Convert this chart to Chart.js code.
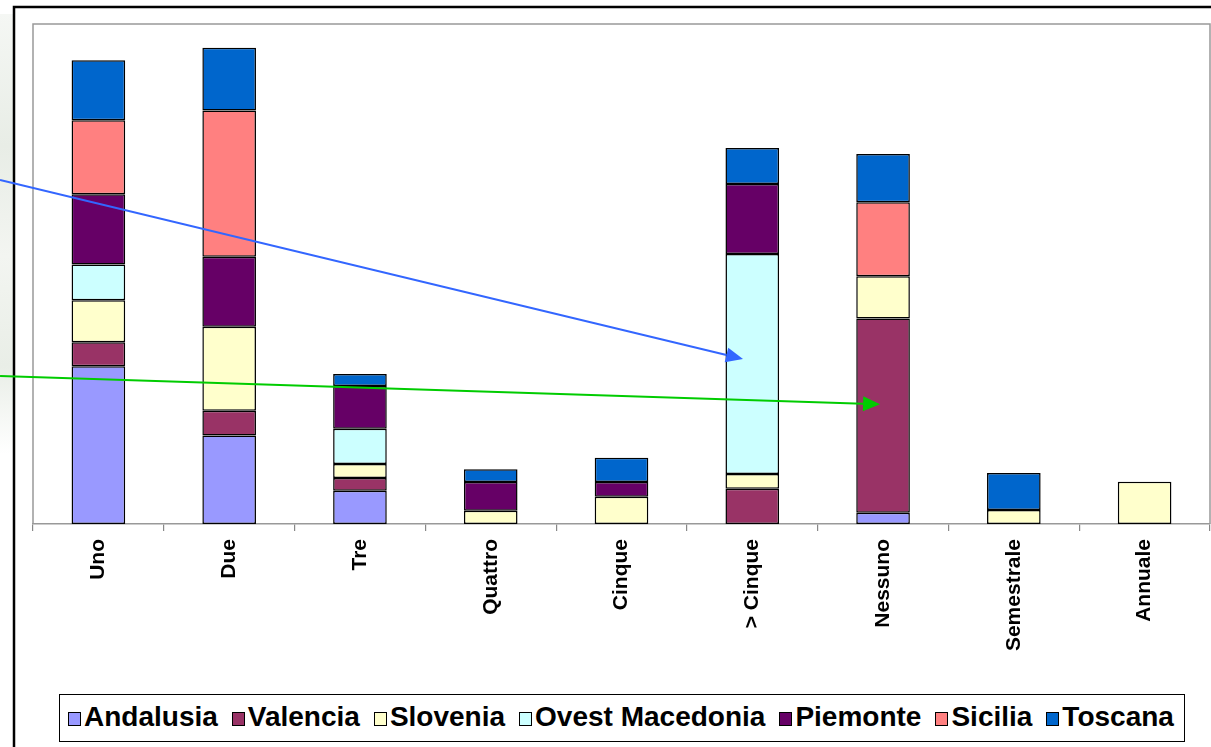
<!DOCTYPE html>
<html>
<head>
<meta charset="utf-8">
<script src="https://cdn.jsdelivr.net/npm/chart.js@4.4.1/dist/chart.umd.min.js"></script>
<style>
  html, body { margin: 0; padding: 0; background: #ffffff; }
  #wrap { position: relative; width: 1211px; height: 747px; overflow: hidden; }
  #strip { position: absolute; left: 0; top: 14px; width: 14px; height: 440px;
           background: linear-gradient(to bottom, #f5f7f4 0%, #e8ede6 30%, #f3f5f1 55%, #e9eee7 80%, #ffffff 100%); }
  canvas { position: absolute; left: 0; top: 0; }
  #legend { position: absolute; left: 59px; top: 694px; height: 46px;
            border: 1.2px solid #000; background: #fff; padding: 0 10px 0 8px; }
  #legend ul { list-style: none; margin: 0; padding: 0; height: 46px;
               display: flex; align-items: center; white-space: nowrap; }
  #legend li { display: flex; align-items: center; margin-right: 14px; }
  #legend li:last-child { margin-right: 0; }
  #legend .box { display: inline-block; width: 11px; height: 12px; border: 1.2px solid #000; margin-right: 3px; position: relative; top: 1px; }
  #legend .txt { font-family: "Liberation Sans", Arial, sans-serif; font-weight: bold; font-size: 28px;
                 color: #000; line-height: 28px; position: relative; top: -1px; }
</style>
</head>
<body>
<div id="wrap">
  <div id="strip"></div>
  <canvas id="c" width="1211" height="747"></canvas>
  <div id="legend"></div>
</div>
<script>
// ---- data (percent of each region's answers) ----
const categories = ['Uno', 'Due', 'Tre', 'Quattro', 'Cinque', '> Cinque', 'Nessuno', 'Semestrale', 'Annuale'];
const seriesNames = ['Andalusia', 'Valencia', 'Slovenia', 'Ovest Macedonia', 'Piemonte', 'Sicilia', 'Toscana'];
const andalusia = [53.6, 30.1, 11.3, null, null, null, 3.8, null, null];
const valencia  = [8.2, 8.4, 4.3, null, null, 12.0, 66.1, null, null];
const slovenia  = [14.3, 28.6, 4.8, 4.5, 9.3, 5.0, 14.3, 4.8, 14.4];
const ovestMacedonia = [12.1, null, 12.0, null, null, 74.8, null, null, null];
const piemonte  = [23.9, 23.8, 14.5, 9.8, 5.0, 23.8, null, null, null];
const sicilia   = [25.2, 49.7, null, null, null, null, 25.2, null, null];
const toscana   = [20.4, 21.3, 4.1, 4.3, 8.2, 12.2, 16.4, 12.5, null];
const seriesColors = ['#9999FF', '#993366', '#FFFFCC', '#CCFFFF', '#660066', '#FF8080', '#0066CC'];
// annotation arrows in data coordinates: [categoryIndex, value]
const blueArrow  = [[-0.752, 117.0], [4.929, 56.1]];
const greenArrow = [[-0.752, 50.3], [5.977, 40.7]];

const seriesData = [andalusia, valencia, slovenia, ovestMacedonia, piemonte, sicilia, toscana];

const htmlLegendPlugin = {
  id: 'htmlLegend',
  afterUpdate(chart) {
    const container = document.getElementById('legend');
    container.innerHTML = '';
    const ul = document.createElement('ul');
    const items = chart.options.plugins.legend.labels.generateLabels(chart);
    items.forEach(item => {
      const li = document.createElement('li');
      const box = document.createElement('span');
      box.className = 'box';
      box.style.background = item.fillStyle;
      const txt = document.createElement('span');
      txt.className = 'txt';
      txt.textContent = item.text;
      li.appendChild(box);
      li.appendChild(txt);
      ul.appendChild(li);
    });
    container.appendChild(ul);
  }
};

const framePlugin = {
  id: 'frame',
  beforeDraw(chart) {
    const ctx = chart.ctx;
    ctx.save();
    ctx.fillStyle = '#ffffff';
    ctx.fillRect(14, 7, chart.width, chart.height);
    ctx.strokeStyle = '#000000';
    ctx.lineWidth = 2.5;
    ctx.beginPath();
    ctx.moveTo(14, chart.height + 5);
    ctx.lineTo(14, 7);
    ctx.lineTo(chart.width + 5, 7);
    ctx.stroke();
    const a = chart.chartArea;
    ctx.strokeStyle = '#999999';
    ctx.lineWidth = 1.5;
    ctx.beginPath();
    ctx.moveTo(a.left, a.bottom);
    ctx.lineTo(a.left, a.top);
    ctx.lineTo(a.right, a.top);
    ctx.lineTo(a.right, a.bottom);
    ctx.stroke();
    ctx.restore();
  },
  afterDatasetsDraw(chart) {
    const ctx = chart.ctx;
    const xs = chart.scales.x, ys = chart.scales.y;
    const step = xs.getPixelForValue(1) - xs.getPixelForValue(0);
    const px = (p) => [xs.getPixelForValue(0) + p[0] * step, ys.getPixelForValue(p[1])];
    const drawArrow = (pts, color) => {
      const [x0, y0] = px(pts[0]);
      const [x1, y1] = px(pts[1]);
      const ang = Math.atan2(y1 - y0, x1 - x0);
      const L = 17, W = 7.5;
      const bx = x1 - L * Math.cos(ang), by = y1 - L * Math.sin(ang);
      ctx.save();
      ctx.strokeStyle = color;
      ctx.fillStyle = color;
      ctx.lineWidth = 2;
      ctx.beginPath();
      ctx.moveTo(x0, y0);
      ctx.lineTo(bx, by);
      ctx.stroke();
      ctx.beginPath();
      ctx.moveTo(x1, y1);
      ctx.lineTo(bx + W * Math.sin(ang), by - W * Math.cos(ang));
      ctx.lineTo(bx - W * Math.sin(ang), by + W * Math.cos(ang));
      ctx.closePath();
      ctx.fill();
      ctx.restore();
    };
    drawArrow(blueArrow, '#3366FF');
    drawArrow(greenArrow, '#00CC00');
  }
};

new Chart(document.getElementById('c'), {
  type: 'bar',
  data: {
    labels: categories,
    datasets: seriesNames.map((name, i) => ({
      label: name,
      data: seriesData[i],
      backgroundColor: seriesColors[i],
      borderColor: '#000000',
      borderWidth: 1.5,
      borderSkipped: false,
      barPercentage: 0.41,
      categoryPercentage: 1.0
    }))
  },
  options: {
    responsive: false,
    animation: false,
    devicePixelRatio: 1,
    layout: { padding: { left: 33, right: 1, top: 24, bottom: 54 } },
    plugins: {
      tooltip: { enabled: false },
      legend: { display: false }
    },
    scales: {
      x: {
        stacked: true,
        grid: { display: true, offset: true, drawOnChartArea: false, drawTicks: true, tickLength: 7, color: '#888888', lineWidth: 1.2 },
        border: { display: true, color: '#999999', width: 1.5 },
        ticks: {
          color: '#000000',
          font: { family: '"Liberation Sans", Arial, sans-serif', size: 21, weight: 'bold' },
          minRotation: 90,
          maxRotation: 90,
          autoSkip: false,
          padding: 8
        },
        afterFit: (axis) => { axis.height = 169; }
      },
      y: {
        stacked: true,
        display: false,
        min: 0,
        max: 170
      }
    }
  },
  plugins: [framePlugin, htmlLegendPlugin]
});
</script>
</body>
</html>
